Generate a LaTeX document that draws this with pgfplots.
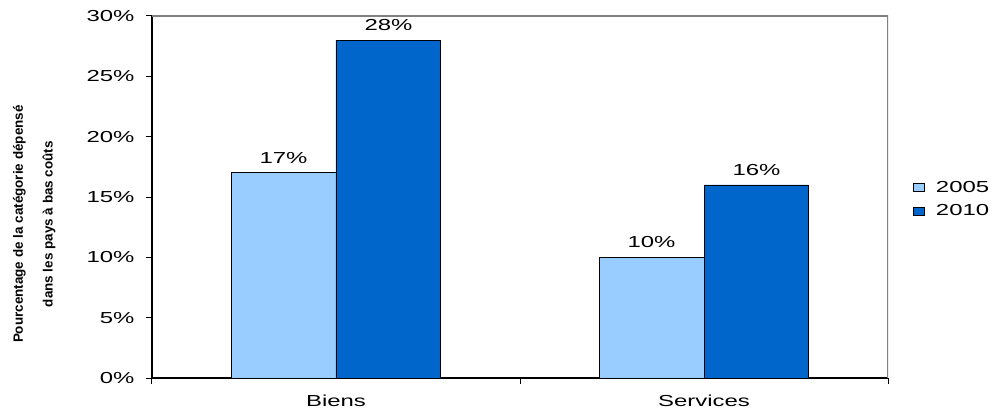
\documentclass[border=0pt]{standalone}
\usepackage{pgfplots}
\pgfplotsset{compat=1.18}
\usepackage{fontspec}
\setmainfont{Liberation Sans}[FakeStretch=1.5]
\newfontfamily\labelfont{Liberation Sans}
\definecolor{c05}{HTML}{99CCFF}
\definecolor{c10}{HTML}{0066CC}
\definecolor{frame}{HTML}{808080}
\begin{document}
\begin{tikzpicture}
\begin{axis}[
  name=ax,
  scale only axis, width=736bp, height=362bp,
  xmin=-0.5, xmax=1.5, ymin=0, ymax=30,
  ybar=0pt, bar width=0.285,
  axis x line*=bottom, axis y line*=left,
  axis line style={black, line width=1.2bp},
  xtick={0,1}, xticklabels={Biens,Services},
  minor xtick={-0.5,0.5,1.5},
  major x tick style={draw=none},
  ytick={0,5,10,15,20,25,30},
  yticklabel={\pgfmathprintnumber{\tick}\%},
  /pgf/number format/assume math mode=true,
  tick align=outside,
  major tick length=6bp, minor tick length=6bp,
  tick style={black, line width=1bp},
  ticklabel style={font=\fontsize{16}{19}\selectfont},
  yticklabel style={xshift=-8bp},
  xticklabel style={yshift=-7bp},
  ylabel={Pourcentage de la catégorie dépensé\\dans les pays à bas coûts},
  ylabel style={font=\labelfont\bfseries\fontsize{13.5}{30}\selectfont, align=center, at={(axis description cs:-0.160,0.425)}, anchor=center},
  nodes near coords={\pgfmathprintnumber{\pgfplotspointmeta}\%},
  nodes near coords style={font=\fontsize{16}{19}\selectfont, black, inner sep=0pt, yshift=9bp},
  legend style={at={(axis description cs:1.030,0.494)}, anchor=west, draw=none, fill=none, font=\fontsize{16}{19}\selectfont, row sep=9bp, nodes={inner sep=1bp}},
  legend cell align=left,
  legend image code/.code={\draw[#1, draw=black, line width=0.6bp] (0bp,-4bp) rectangle (11bp,4bp); \path (21bp,0bp);},
]
\addplot[fill=c05, draw=black, line width=0.8bp] coordinates {(0,17) (1,10)};
\addplot[fill=c10, draw=black, line width=0.8bp] coordinates {(0,28) (1,16)};
\legend{2005,2010}
\draw[frame, line width=1.2bp] (rel axis cs:0,1) -- (rel axis cs:1,1) -- (rel axis cs:1,0);
\end{axis}
\path (ax.south west) ++(-152bp,-34bp) (ax.north east) ++(106bp,16bp);
\end{tikzpicture}
\end{document}
